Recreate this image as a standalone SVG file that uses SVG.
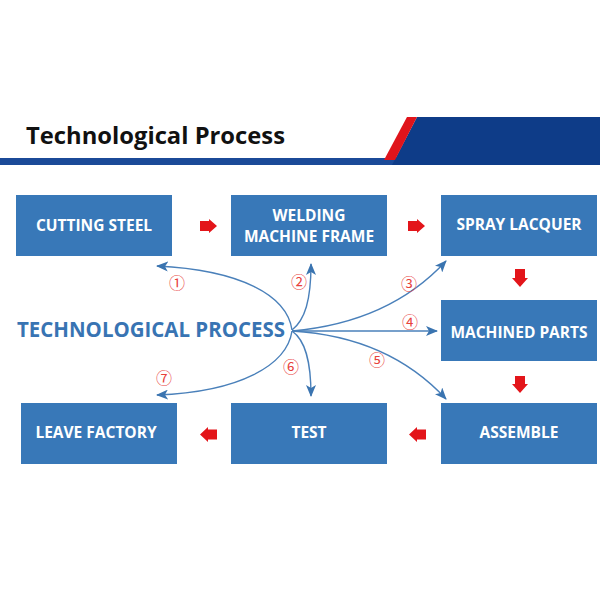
<svg xmlns="http://www.w3.org/2000/svg" width="600" height="600" viewBox="0 0 600 600">
<defs>
<style>
.box{fill:#3878b8;}
.lbl{font-family:"Open Sans","Liberation Sans",sans-serif;font-weight:bold;font-size:15.5px;fill:#ffffff;text-anchor:middle;}
.red{fill:#e3151a;}
.cur{fill:none;stroke:#4a80ba;stroke-width:1.4;marker-end:url(#ah);}
.num{font-family:"Noto Sans CJK SC","DejaVu Sans",sans-serif;font-size:16px;fill:#e8413c;text-anchor:middle;}
</style>
<marker id="ah" viewBox="0 0 12 10" refX="11" refY="5" markerWidth="12" markerHeight="10" markerUnits="userSpaceOnUse" orient="auto">
<path d="M0,0 L12,5 L0,10 L3,5 Z" fill="#3a74b0"/>
</marker>
</defs>
<rect width="600" height="600" fill="#ffffff"/>
<g id="header">
<rect x="0" y="158" width="600" height="7" fill="#1b4a98"/>
<polygon points="417,117 600,117 600,165 392,165" fill="#0e3c88"/>
<polygon points="407,117 417,117 395,160 384,160" fill="#e0141b"/>
<text x="26" y="144" font-family="Open Sans, Liberation Sans, sans-serif" font-weight="bold" font-size="23" fill="#111111" textLength="259" lengthAdjust="spacingAndGlyphs">Technological Process</text>
</g>
<g id="center">
<text x="17" y="337" font-family="Open Sans, Liberation Sans, sans-serif" font-weight="bold" font-size="21" fill="#3874b3" textLength="268" lengthAdjust="spacingAndGlyphs">TECHNOLOGICAL PROCESS</text>
</g>
<g id="n1"><rect class="box" x="16" y="195" width="156" height="61"/><text class="lbl" x="94" y="231">CUTTING STEEL</text></g>
<g id="n2"><rect class="box" x="231" y="195" width="156" height="61"/><text class="lbl" x="309" y="221">WELDING</text><text class="lbl" x="309" y="242">MACHINE FRAME</text></g>
<g id="n3"><rect class="box" x="441" y="195" width="156" height="61"/><text class="lbl" x="519" y="230">SPRAY LACQUER</text></g>
<g id="n4"><rect class="box" x="441" y="300" width="156" height="61"/><text class="lbl" x="519" y="338">MACHINED PARTS</text></g>
<g id="n5"><rect class="box" x="441" y="403" width="156" height="61"/><text class="lbl" x="519" y="438">ASSEMBLE</text></g>
<g id="n6"><rect class="box" x="231" y="403" width="156" height="61"/><text class="lbl" x="309" y="438">TEST</text></g>
<g id="n7"><rect class="box" x="21" y="403" width="156" height="61"/><text class="lbl" x="96" y="438">LEAVE FACTORY</text></g>
<g id="connectors">
<polygon class="red" points="200,221 209,221 209,219 217,226 209,233 209,231 200,231"/>
<polygon class="red" points="408,221 417,221 417,219 425,226 417,233 417,231 408,231"/>
<polygon class="red" points="515,269 525,269 525,278 528,278 520,287 512,278 515,278"/>
<polygon class="red" points="515,376 525,376 525,384 528,384 520,393 512,384 515,384"/>
<polygon class="red" points="426,429.5 417,429.5 417,427 409,434.5 417,442 417,439.5 426,439.5"/>
<polygon class="red" points="217,429.5 208,429.5 208,427 200,434.5 208,442 208,439.5 217,439.5"/>
<path class="cur" d="M292,330 C287,295 240,270 157,266"/>
<path class="cur" d="M292,330 C305,320 311,300 311,264"/>
<path class="cur" d="M292,331 C360,325 410,300 446,261"/>
<path class="cur" d="M292,331 L437,331"/>
<path class="cur" d="M292,331 C360,335 410,360 446,399"/>
<path class="cur" d="M292,331 C305,340 311,360 311,396"/>
<path class="cur" d="M292,331 C287,365 240,392 157,395"/>
<text class="num" x="177" y="289">①</text>
<text class="num" x="299" y="288">②</text>
<text class="num" x="409" y="290">③</text>
<text class="num" x="410" y="328">④</text>
<text class="num" x="377" y="366">⑤</text>
<text class="num" x="291" y="373">⑥</text>
<text class="num" x="164" y="384">⑦</text>
</g>
</svg>
